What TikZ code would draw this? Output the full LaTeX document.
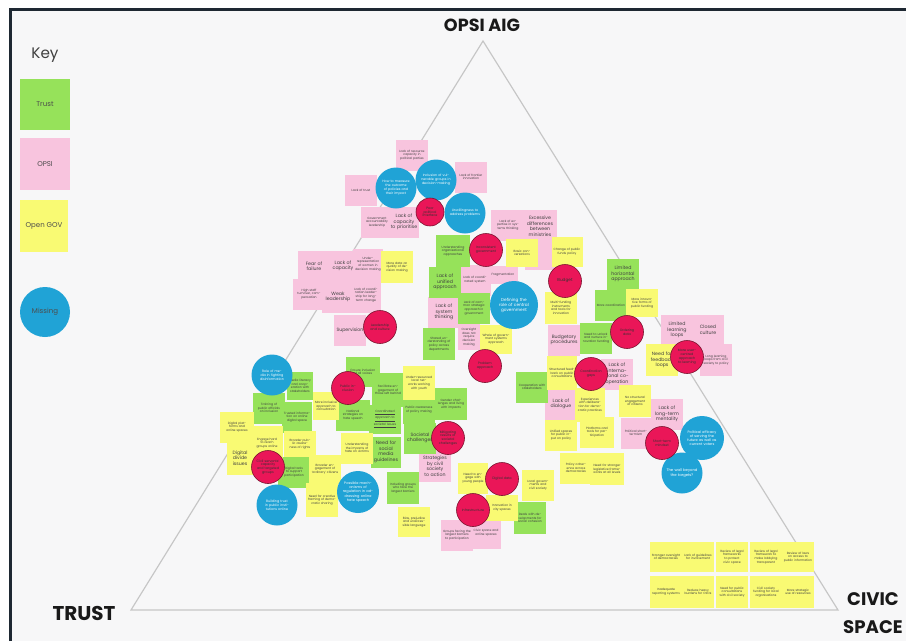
\documentclass[tikz,border=0pt]{standalone}
\usepackage{fontspec}
\setmainfont{Poppins}
\definecolor{paper}{RGB}{247,247,248}
\definecolor{framedark}{RGB}{30,40,50}
\definecolor{triline}{RGB}{198,198,198}
\definecolor{trustgreen}{RGB}{150,226,90}
\definecolor{opsipink}{RGB}{248,196,222}
\definecolor{govyellow}{RGB}{249,250,115}
\definecolor{missblue}{RGB}{32,163,214}
\definecolor{riskred}{RGB}{234,22,88}
\definecolor{riskedge}{RGB}{120,18,45}

\begin{document}
\begin{tikzpicture}[x=0.3mm,y=-0.3mm,
  note/.style={rectangle,inner sep=0.3pt,align=center,text width=8.5mm,
    minimum width=9.6mm,minimum height=9.3mm,text=black!75,
    font=\fontsize{2.6}{3.1}\selectfont},
  trust/.style={note,fill=trustgreen},
  opsi/.style={note,fill=opsipink},
  gov/.style={note,fill=govyellow},
  big/.style={font=\fontsize{4}{4.7}\selectfont},
  risk/.style={circle,fill=riskred,draw=riskedge,line width=0.5pt,minimum size=9.9mm,
    inner sep=0pt,align=center,text width=7mm,text=black!80,
    font=\fontsize{2.8}{3.3}\selectfont},
  missing/.style={circle,fill=missblue,minimum size=12.3mm,inner sep=0pt,align=center,
    text width=9.2mm,text=white,font=\fontsize{2.8}{3.3}\selectfont},
  corner/.style={font=\bfseries\fontsize{17}{24}\selectfont,text=black!90}]
\useasboundingbox (0,0) rectangle (906,641);
\fill[white] (0,0) rectangle (906,641);
\fill[paper] (10,10) rectangle (906,641);
\draw[framedark,line width=0.9mm] (10,641)--(10,9.7)--(906,9.7);

% corners of the triangle
\node[font=\bfseries\fontsize{15}{15}\selectfont,text=black!90] (opsiaig) at (482,25) {OPSI AIG};
\node[corner] (trust) at (84,613) {TRUST};
\node[corner,align=center,font=\bfseries\fontsize{15.5}{24}\selectfont] (civic) at (873,613) {CIVIC\\SPACE};
\coordinate (apex) at (483,41);
\coordinate (lt) at (131,610);
\coordinate (rt) at (838,610);
\draw[triline,line width=0.35mm] (apex)--(lt)--(rt)--cycle;

% key
\node[text=black!75,font=\fontsize{13}{13}\selectfont] (key) at (45,55) {Key};
\node[fill=trustgreen,minimum width=15mm,minimum height=15.3mm,text=black!70,
  font=\fontsize{6}{6}\selectfont] (keytrust) at (45,104) {Trust};
\node[fill=opsipink,minimum width=15mm,minimum height=15.6mm,text=black!70,
  font=\fontsize{6}{6}\selectfont] (keyopsi) at (45,164) {OPSI};
\node[fill=govyellow,minimum width=14.4mm,minimum height=15.6mm,text=black!70,
  font=\fontsize{6}{6}\selectfont] (keygov) at (44,226) {Open GOV};
\node[circle,fill=missblue,minimum size=15mm,text=black!70,
  font=\fontsize{6}{6}\selectfont] (keymiss) at (45,312) {Missing};

% OPSI notes
\node[opsi] (pparty) at (412,155) {Lack of resource capacity in political parties};
\node[opsi] (ptrust) at (361,190) {Lack of trust};
\node[opsi] (pfront) at (471,177) {Lack of frontier innovation};
\node[opsi] (paccount) at (377,222) {Government accountability leadership};
\node[opsi,big,minimum width=8.7mm] (pprior) at (404,222) {Lack of capacity to prioritise};
\node[opsi,big] (pfear) at (314,266) {Fear of failure};
\node[opsi,big,minimum width=8.7mm] (pcap) at (343,266) {Lack of capacity};
\node[opsi,minimum width=8.7mm] (pwomen) at (368,264) {Under-representation of women in decision making};
\node[opsi] (pstaff) at (309,294) {High staff turnover, compensation};
\node[opsi,big] (pweak) at (338,297) {Weak leadership};
\node[opsi,minimum width=8.7mm,minimum height=10.5mm] (pcoord) at (366,295) {Lack of coordination leadership for long-term change};
\node[opsi,big] (psuper) at (350,330) {Supervision};
\node[opsi,minimum width=10mm] (pexpert) at (508,225) {Lack of expertise in systems thinking};
\node[opsi,minimum height=18mm] (pela) at (541,240) {};
\node[opsi,big,text width=8.6mm] (pdiff) at (540,226) {Excessive differences between ministries};
\node[opsi] (pcoordsys) at (475,280) {Lack of coordinated system};
\node[opsi,minimum width=8.4mm,minimum height=5.4mm] (pfrag) at (503,275) {Fragmentation};
\node[opsi,big] (pthink) at (444,312) {Lack of system thinking};
\node[opsi,minimum width=6.6mm,minimum height=7.8mm,text width=6mm] (pover) at (469,337) {Oversight does not require decision making};
\node[opsi,big,minimum width=9.8mm] (pbudget) at (564,340) {Budgetary procedures};
\node[opsi,big] (plearn) at (677,330) {Limited learning loops};
\node[opsi,big,minimum width=9.8mm] (pclosed) at (708,330) {Closed culture};
\node[opsi,minimum width=9.8mm,minimum height=9.8mm] (plong) at (716,360) {Long learning loops from civil society to policy};
\node[opsi,big,minimum width=9.8mm] (pintl) at (617,374) {Lack of international co-operation};
\node[opsi,big,minimum width=9.8mm] (pdial) at (561,404) {Lack of dialogue};
\node[opsi,big] (plongterm) at (667,414) {Lack of long-term mentality};
\node[opsi,minimum width=8.7mm] (pshort) at (636,433) {Political short-termism};
\node[opsi,big] (pstrat) at (435,466) {Strategies by civil society to action};
\node[opsi] (pgroups) at (457,535) {Groups facing the largest barriers to participation};
\node[opsi,minimum width=8.7mm] (pcivic) at (486,533) {Civic space and online spaces};

% Trust notes
\node[trust,minimum width=10mm,minimum height=9.8mm] (gorg) at (453,251) {Understanding organisational approaches};
\node[trust,big] (gunified) at (445,282) {Lack of unified approach};
\node[trust,minimum width=9.8mm] (gcommon) at (474,308) {Lack of common strategic approach in government};
\node[trust,minimum width=9.8mm,minimum height=9.8mm] (gshare) at (439,344) {Shared understanding of policy across departments};
\node[trust,big] (ghoriz) at (623,274) {Limited horizontal approach};
\node[trust,minimum width=9.8mm] (gmore) at (611,305) {More coordination};
\node[trust,minimum width=9.8mm] (gnurture) at (596,338) {Need to unlock and nurture innovation funding};
\node[trust] (gcoop) at (532,387) {Cooperation with stakeholders};
\node[trust,minimum width=7.8mm,minimum height=8.4mm,text width=7mm] (gmedia) at (300,386) {Media literacy and cooperation with stakeholders};
\node[trust,minimum width=9.8mm] (gtrain) at (269,408) {Training of public officials on inclusion};
\node[trust,minimum width=9mm] (gtrust) at (297,417) {Trusted information on online digital space};
\node[trust,minimum width=10mm,minimum height=9mm] (gensure) at (363,372) {Ensure inclusion of all voices};
\node[trust,minimum width=10mm] (gnational) at (353,415) {National strategies on hate speech};
\node[trust,minimum height=10.2mm] (gfacil) at (388,390) {Facilitate engagement of those left behind};
\node[trust,minimum height=8.7mm] (gcoord) at (385,419) {\underline{Coordinated} \underline{approach to} \underline{societal issues}};
\node[trust,minimum width=9.8mm,minimum height=8.1mm] (gpublic) at (419,410) {Public awareness of policy making};
\node[trust,minimum width=9.8mm,minimum height=9.8mm] (ggender) at (451,404) {Gender challenges and living with impacts};
\node[trust,big] (gsocietal) at (420,438) {Societal challenges};
\node[trust,big,minimum width=8.7mm] (gsocial) at (386,452) {Need for social media guidelines};
\node[trust,minimum width=9.8mm] (gdigital) at (294,472) {Digital tools to support participation};
\node[trust,minimum height=9.5mm] (ginclude) at (403,488) {Including groups who face the largest barriers};
\node[trust,minimum height=9.5mm] (gdeals) at (530,518) {Deals with developments for social cohesion};

% Open GOV notes
\node[gov,minimum height=9.5mm] (ydata) at (397,267) {More data on quality of decision making};
\node[gov,minimum height=8.4mm] (ybasic) at (522,253) {Basic conversations};
\node[gov,minimum width=9.3mm,minimum height=9mm] (ychange) at (567,252) {Change of public funds policy};
\node[gov,minimum width=9.8mm,minimum height=8.7mm] (ywhole) at (496,339) {Whole of government systems approach};
\node[gov,minimum width=9.8mm,minimum height=9.5mm] (ymulti) at (561,308) {Multi-funding instruments and tools for innovation};
\node[gov,minimum height=8.4mm] (yinnov) at (642,303) {More innovative forms of public funding};
\node[gov,big,minimum height=9.8mm] (yfeed) at (662,360) {Need for feedback loops};
\node[gov,minimum width=9mm,minimum height=10mm] (yfeedback) at (562,373) {Structured feedback on public consultations};
\node[gov,minimum width=8.7mm,minimum height=10.2mm] (yexper) at (590,405) {Experiences with deliberation for democratic practices};
\node[gov,minimum height=9.8mm] (yengage) at (635,401) {No structural engagement of citizens};
\node[gov,minimum width=9.8mm] (yunified) at (561,435) {Unified spaces for public input on policy};
\node[gov,minimum width=10mm] (yplat) at (597,432) {Platforms and tools for participation};
\node[gov,minimum width=9.8mm] (ycoher) at (576,468) {Policy coherence across democracies};
\node[gov,minimum width=10mm,minimum height=9.8mm] (ystrong) at (607,469) {Need for stronger legislative frameworks at all levels};
\node[gov,minimum width=9.8mm,minimum height=10mm] (yunder) at (419,383) {Under-resourced local networks working with youth};
\node[gov,minimum width=7.8mm,minimum height=8.4mm,text width=7mm] (yconsult) at (326,406) {More inclusive approach to consultation};
\node[gov] (yhate) at (357,448) {Understanding the impacts of hate on victims};
\node[gov,minimum width=10mm] (yglobal) at (237,427) {Digital platforms and online spaces};
\node[gov,big,minimum width=8mm,minimum height=10.2mm,text width=7.2mm] (ydivide) at (240,458) {Digital divide issues};
\node[gov,minimum height=10mm] (yreach) at (267,443) {Engage hard to reach groups online};
\node[gov,minimum height=7.8mm] (yaware) at (300,444) {Broader public awareness of rights};
\node[gov,minimum height=8.7mm] (ybroad) at (325,469) {Broader engagement of `ordinary' citizens};
\node[gov,minimum height=10.2mm] (ycreate) at (322,500) {Need for creative framing of democratic sharing};
\node[gov,minimum width=8.4mm] (yyouth) at (473,478) {Need to engage with young people};
\node[gov] (ylocal) at (538,485) {Local governments and civil society};
\node[gov,minimum height=7.8mm] (ycity) at (502,508) {Innovation in city spaces};
\node[gov,minimum width=9.8mm,minimum height=9mm] (ybias) at (414,522) {Bias, prejudice and unaccessible language};

% civic space corner notes
\foreach \i/\x/\t in {1/666/{Stronger oversight of democracies},
  2/698/{Lack of guidelines for involvement},
  3/732/{Review of legal frameworks to protect civic space},
  4/766/{Review of legal framework to make lobbying transparent},
  5/798/{Review of laws on access to public information}}
  {\node[gov,minimum width=9.8mm,minimum height=8.9mm] (cstop\i) at (\x,557) {\t};}
\foreach \i/\x/\t in {1/666/{Inadequate reporting systems},
  2/698/{Reduce heavy burdens for CSOs},
  3/732/{Need for public consultations with civil society},
  4/766/{Civil society funding for local organisations},
  5/798/{More strategic use of resources}}
  {\node[gov,minimum width=9.8mm,minimum height=9.5mm] (csbot\i) at (\x,592) {\t};}

% missing
\node[missing] (mmeasure) at (396,188) {How to measure the outcome of policies and their impact};
\node[missing] (minclude) at (436,180) {Inclusion of vulnerable groups in decision-making};
\node[missing] (mwilling) at (465,213) {Unwillingness to address problems};
\node[missing,minimum size=14.4mm,text width=11mm,font=\fontsize{3.6}{4.3}\selectfont] (mrole) at (514,305) {Defining the role of central government};
\node[missing,text width=9.5mm,font=\fontsize{3.2}{3.8}\selectfont] (mwall) at (682,473) {The wall beyond the targets?};
\node[missing,minimum size=13.2mm,text width=10mm,font=\fontsize{3}{3.6}\selectfont] (mefficacy) at (702,438) {Political efficacy of serving the future as well as current voters};
\node[missing] (mmedia) at (272,375) {Role of media in fighting disinformation};
\node[missing] (mbuild) at (277,505) {Building trust in public institutions online};
\node[missing,minimum size=12.6mm,font=\fontsize{3}{3.6}\selectfont] (mregul) at (358,492) {Possible mechanisms of regulation in addressing online hate speech};

% red circles
\node[risk,minimum size=8.4mm,text width=6mm] (rpolit) at (430,212) {Poor political interface};
\node[risk] (rincon) at (486,250) {Inconsistent government};
\node[risk,font=\fontsize{3.6}{4}\selectfont] (rbudget) at (565,281) {Budget};
\node[risk] (rlead) at (380,327) {Leadership and culture};
\node[risk] (rproblem) at (485,366) {Problem approach};
\node[risk] (rorder) at (627,332) {Ordering data};
\node[risk] (ruser) at (687,357) {More user-centred approach to learning};
\node[risk] (rgaps) at (591,374) {Coordination gaps};
\node[risk] (rshort) at (662,443) {Short-term mindset};
\node[risk] (rinclus) at (348,388) {Public inclusion};
\node[risk] (rcivil) at (268,467) {Civil servants' capacity and targeted groups};
\node[risk] (rmitig) at (448,438) {Mitigating results of societal challenges};
\node[risk] (rdigital) at (502,479) {Digital data};
\node[risk] (rinfra) at (473,510) {Infrastructure};
\end{tikzpicture}
\end{document}
